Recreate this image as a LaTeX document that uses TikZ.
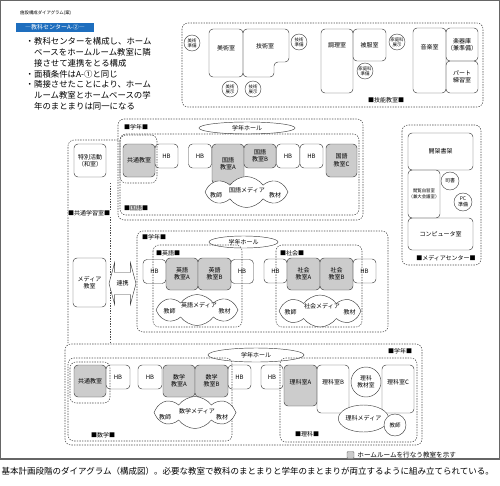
\documentclass[tikz,border=0pt]{standalone}
\usepackage{fontspec}
\setmainfont{Noto Sans CJK JP}
\usetikzlibrary{positioning,shapes.geometric,shapes.symbols,shapes.arrows}
\definecolor{hrgray}{gray}{0.80}
\definecolor{tagblue}{RGB}{30,110,190}
\newcommand{\fsz}[2]{\fontsize{#1}{#2}\selectfont}

\begin{document}
\begin{tikzpicture}[x=1pt, y=-1pt,
  wall/.style={draw=black!75, line width=0.45pt, rounded corners=4pt},
  room/.style={wall, inner sep=0pt, align=center, font=\fsz{6}{7.4}},
  hroom/.style={room, fill=hrgray},
  hb/.style={room, minimum width=23pt, minimum height=24pt},
  pod/.style={circle, draw=black!75, line width=0.45pt, fill=white, inner sep=0pt, minimum size=16pt, align=center, font=\fsz{4.4}{5}},
  grp/.style={draw=black!70, line width=0.55pt, dash pattern=on 1.4pt off 1.2pt, rounded corners=6pt},
  tag/.style={font=\fsz{6}{7}, inner sep=0.5pt, fill=white},
  note/.style={font=\fsz{6}{7}, inner sep=0pt, align=center},
  hall/.style={ellipse, draw=black!75, line width=0.45pt, inner sep=0pt, font=\fsz{6}{7}},
  media/.style={cloud, cloud puffs=8, cloud puff arc=110, cloud ignores aspect, draw=black!75, line width=0.45pt, fill=white, inner sep=0pt}]
  \useasboundingbox (0,0) rectangle (500,485);
  \draw[black!60, line width=1.4pt] (0.7,0.7) rectangle (499.3,459);

  % heading and notes
  \node[anchor=west, inner sep=0pt, font=\fsz{4.4}{5}] (title) at (20,13) {施設構成ダイアグラム(案)};
  \node[fill=tagblue, text=white, font=\fsz{6}{7}, minimum width=78pt, minimum height=9pt, inner sep=0pt] (center) at (55,27.5) {―教科センターA-②―};
  \node[anchor=north west, align=left, inner sep=0pt, font=\fsz{8.4}{10.75}] (memo) at (25.5,37.5) {・教科センターを構成し、ホーム\\　ベースをホームルーム教室に隣\\　接させて連携をとる構成\\・面積条件はA-①と同じ\\・隣接させたことにより、ホーム\\　ルーム教室とホームベースの学\\　年のまとまりは同一になる};

  % 技能教室
  \draw[grp] (182,23) rectangle (483,107);
  \node[room, minimum width=34pt, minimum height=48pt, label={[note, anchor=center, yshift=-19pt]north:美術室}] (bijutsu) at (226,53) {};
  \draw[wall] (243,29) -- (289,29) -- (289,62) -- (274,62) -- (274,77) -- (243,77) -- cycle;
  \node[note] (gijutsu) at (265,46) {技術室};
  \node[pod] (bjunbi) at (192,43) {美術\\準備};
  \node[pod] (gjunbi) at (299,42) {技術\\準備};
  \node[pod] (btenji) at (230,89) {美術\\展示};
  \node[pod] (gtenji) at (253,89) {技術\\展示};
  \node[room, minimum width=32pt, minimum height=64pt, label={[note, anchor=center, yshift=-16pt]north:調理室}] (chori) at (337,61) {};
  \node[room, minimum width=33pt, minimum height=32pt] (hifuku) at (369.5,45) {被服室};
  \node[pod] (ktenji) at (397,42) {家庭科\\展示};
  \node[pod] (kjunbi) at (365,71) {家庭科\\準備};
  \node[room, minimum width=33pt, minimum height=65pt, label={[note, anchor=center, yshift=-19pt]north:音楽室}] (ongaku) at (429.5,60.5) {};
  \node[room, minimum width=32pt, minimum height=33pt] (gakki) at (462,44.5) {楽器庫\\（兼準備）};
  \node[room, minimum width=32pt, minimum height=32pt] (part) at (462,77) {パート\\練習室};
  \node[tag] at (386,100) {■技能教室■};

  % 共通学習室
  \draw[grp] (118,140) -- (68,140) -- (68,343);
  \draw[grp] (110,183) -- (110,343);
  \node[room, minimum width=32pt, minimum height=33pt] (tokkatsu) at (90,160.5) {特別活動\\（和室）};
  \node[tag] at (89,213) {■共通学習室■};
  \node[room, minimum width=33pt, minimum height=49pt] (mediakyo) at (89.5,282.5) {メディア\\教室};
  \node[double arrow, draw=black!75, line width=0.45pt, fill=white, double arrow head extend=10pt, double arrow tip angle=150, minimum height=27pt, inner xsep=1pt, inner ysep=8pt, font=\fsz{6}{7}] (renkei) at (122.5,283.5) {連携};

  % 学年 1 / 国語
  \draw[grp] (118,119) rectangle (363,220);
  \draw[grp] (120,134) rectangle (359,215);
  \draw[grp] (120,135) rectangle (157,183);
  \node[tag] at (136,127) {■学年■};
  \node[hall, minimum width=96pt, minimum height=12pt] (hall1) at (247,128) {学年ホール};
  \node[tag] at (136,208) {■国語■};
  \node[hroom, minimum width=32pt, minimum height=33pt] (kyotsu1) at (139,160.5) {共通教室};
  \node[hb] (hb11) at (166.5,156) {HB};
  \node[hb] (hb12) at (200,156) {HB};
  \node[hroom, minimum width=32pt, minimum height=40pt] (kokugoA) at (228,164) {国語\\教室A};
  \node[hroom, minimum width=32pt, minimum height=24pt] (kokugoB) at (260,156) {国語\\教室B};
  \node[hb] (hb13) at (288,156) {HB};
  \node[hb] (hb14) at (311.5,156) {HB};
  \node[hroom, minimum width=31pt, minimum height=33pt] (kokugoC) at (341.5,160.5) {国語\\教室C};
  \node[media, minimum width=83pt, minimum height=31pt] (kmedia) at (246.5,192) {};
  \node[note] at (216,195) {教師};
  \node[note] at (247,190) {国語メディア};
  \node[note] at (275,195) {教材};

  % メディアセンター
  \draw[grp] (402,125) rectangle (481,265);
  \node[room, minimum width=65pt, minimum height=37pt] (kaika) at (440.5,151.5) {開架書架};
  \node[room, minimum width=32pt, minimum height=48pt, font=\fsz{4.4}{5.6}] (etsuran) at (424,194) {閲覧自習室\\（兼大会議室）};
  \node[pod, minimum size=18pt, font=\fsz{5}{6}] (shisho) at (450,181) {司書};
  \node[pod, minimum size=18pt, font=\fsz{5}{6}] (pcjunbi) at (463,202) {PC\\準備};
  \node[room, minimum width=65pt, minimum height=32pt] (computer) at (440.5,234) {コンピュータ室};
  \node[tag] at (446,258) {■メディアセンター■};

  % 学年 2 / 英語・社会
  \draw[grp] (137,231) rectangle (388,332);
  \draw[grp] (153,245) rectangle (242,327);
  \draw[grp] (276,245) rectangle (362,327);
  \node[tag] at (154,237) {■学年■};
  \node[hall, minimum width=69pt, minimum height=12pt] (hall2) at (243.5,242) {学年ホール};
  \node[tag] at (168,253) {■英語■};
  \node[tag] at (292,253) {■社会■};
  \node[hb] (hb21) at (154.5,271.5) {HB};
  \node[hroom, minimum width=32pt, minimum height=32pt] (eigoA) at (182,274) {英語\\教室A};
  \node[hroom, minimum width=33pt, minimum height=32pt] (eigoB) at (214.5,274) {英語\\教室B};
  \node[hb] (hb22) at (242,271.5) {HB};
  \node[hb] (hb23) at (275.5,271) {HB};
  \node[hroom, minimum width=33pt, minimum height=32pt] (shakaiA) at (303.5,274) {社会\\教室A};
  \node[hroom, minimum width=33pt, minimum height=32pt] (shakaiB) at (336.5,274) {社会\\教室B};
  \node[hb] (hb24) at (364.5,271) {HB};
  \node[media, minimum width=82pt, minimum height=31pt] (emedia) at (197,310) {};
  \node[note] at (169.5,311) {教師};
  \node[note] at (199,305) {英語メディア};
  \node[note] at (224.5,311) {教材};
  \node[media, minimum width=82pt, minimum height=32pt] (shmedia) at (320,311) {};
  \node[note] at (290.5,312) {教師};
  \node[note] at (322,306) {社会メディア};
  \node[note] at (349.5,312) {教材};

  % 学年 3 / 数学・理科
  \draw[grp] (65,344) rectangle (422,445);
  \draw[grp] (68,358) rectangle (232,441);
  \draw[grp] (70,362) rectangle (110,403);
  \draw[grp] (280,358) rectangle (417,442);
  \node[tag] at (400,351) {■学年■};
  \node[hall, minimum width=96pt, minimum height=14pt] (hall3) at (256,355) {学年ホール};
  \node[tag] at (103,435) {■数学■};
  \node[tag] at (307,434) {■理科■};
  \node[hroom, minimum width=32pt, minimum height=32pt] (kyotsu2) at (90,381) {共通教室};
  \node[hb, minimum width=24pt] (hb31) at (118,377) {HB};
  \node[hb, minimum width=24pt] (hb32) at (150,377) {HB};
  \node[hroom, minimum width=32pt, minimum height=32pt] (sugakuA) at (179,381) {数学\\教室A};
  \node[hroom, minimum width=33pt, minimum height=32pt] (sugakuB) at (211.5,381) {数学\\教室B};
  \node[hb] (hb33) at (239.5,377) {HB};
  \node[hb, minimum width=22pt] (hb34) at (272,377) {HB};
  \node[media, minimum width=82pt, minimum height=32pt] (sgmedia) at (195,412.5) {};
  \node[note] at (165,417) {教師};
  \node[note] at (197,411) {数学メディア};
  \node[note] at (222,417) {教材};
  \node[hroom, minimum width=33pt, minimum height=41pt, label={[note, anchor=center, yshift=-17pt]north:理科室A}] (rikaA) at (300.5,385.5) {};
  \node[room, minimum width=32pt, minimum height=48pt, label={[note, anchor=center, yshift=-17pt]north:理科室B}] (rikaB) at (333,389) {};
  \node[room, minimum width=32pt, minimum height=48pt, label={[note, anchor=center, yshift=-17pt]north:理科室C}] (rikaC) at (398,389) {};
  \node[pod, minimum size=30pt, font=\fsz{5.8}{6.8}] (rikakyo) at (366,382) {理科\\教材室};
  \node[ellipse, draw=black!75, line width=0.45pt, fill=white, inner sep=0pt, minimum width=47pt, minimum height=27pt, font=\fsz{6}{7}] (rmedia) at (363.5,418.5) {理科メディア};
  \node[pod, minimum size=22pt, font=\fsz{5.5}{6.5}] (rteacher) at (395,425) {教師};

  % legend and caption
  \node[draw=black!60, fill=hrgray, minimum size=7pt, inner sep=0pt, rounded corners=1pt] (legbox) at (350.5,455) {};
  \node[inner sep=0pt, font=\fsz{6.6}{7.5}, right=3pt of legbox] (legtext) {ホームルームを行なう教室を示す};
  \node[anchor=west, inner sep=0pt, font=\fsz{8.5}{10}] (caption) at (1.5,471) {基本計画段階のダイアグラム（構成図）。必要な教室で教科のまとまりと学年のまとまりが両立するように組み立てられている。};
\end{tikzpicture}
\end{document}
